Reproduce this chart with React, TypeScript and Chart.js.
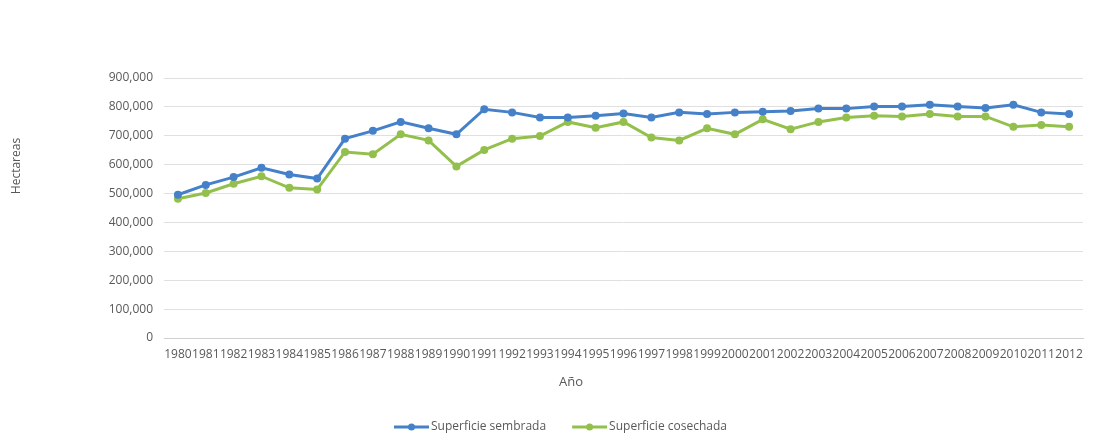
import React, { useEffect, useRef } from "react";
import { Chart, registerables } from "chart.js";

Chart.register(...registerables);

const years: string[] = [
  "1980", "1981", "1982", "1983", "1984", "1985", "1986", "1987", "1988", "1989",
  "1990", "1991", "1992", "1993", "1994", "1995", "1996", "1997", "1998", "1999",
  "2000", "2001", "2002", "2003", "2004", "2005", "2006", "2007", "2008", "2009",
  "2010", "2011", "2012",
];

const sembrada: number[] = [
  496000, 530000, 557000, 589000, 566000, 552000, 690000, 717000, 748000, 726000,
  705000, 792000, 781000, 763000, 763000, 769000, 777000, 763000, 781000, 775000,
  781000, 783000, 786000, 794000, 794000, 801000, 801000, 807000, 801000, 796000,
  807000, 781000, 775000,
];

const cosechada: number[] = [
  482000, 502000, 534000, 560000, 520000, 514000, 644000, 636000, 705000, 684000,
  594000, 651000, 690000, 699000, 748000, 728000, 748000, 694000, 684000, 726000,
  705000, 757000, 723000, 748000, 763000, 769000, 767000, 775000, 767000, 767000,
  731000, 737000, 731000,
];

const seriesNames: string[] = ["Superficie sembrada", "Superficie cosechada"];
const seriesColors: string[] = ["#4581c9", "#93c04c"];
const yTitle = "Hectareas";
const xTitle = "Año";

const FONT = "'Open Sans', sans-serif";
const TEXT = "#595959";

const overlayPlugin = {
  id: "overlay",
  afterDraw(chart: any) {
    const ctx = chart.ctx as CanvasRenderingContext2D;
    ctx.save();
    ctx.fillStyle = TEXT;
    ctx.font = `12px ${FONT}`;
    // y title
    ctx.save();
    ctx.translate(17, 166);
    ctx.rotate(-Math.PI / 2);
    ctx.textAlign = "center";
    ctx.textBaseline = "middle";
    ctx.fillText(yTitle, 0, 0);
    ctx.restore();
    // x title
    ctx.font = `13px ${FONT}`;
    ctx.textAlign = "center";
    ctx.textBaseline = "middle";
    ctx.fillText(xTitle, 571, 382);
    // legend
    ctx.font = `12px ${FONT}`;
    ctx.textAlign = "left";
    const ly = 427;
    let x = 394;
    chart.data.datasets.forEach((ds: any) => {
      ctx.strokeStyle = ds.borderColor;
      ctx.lineWidth = 3;
      ctx.beginPath();
      ctx.moveTo(x, ly);
      ctx.lineTo(x + 35, ly);
      ctx.stroke();
      ctx.fillStyle = ds.borderColor;
      ctx.beginPath();
      ctx.arc(x + 17.5, ly, 3.5, 0, Math.PI * 2);
      ctx.fill();
      ctx.fillStyle = TEXT;
      ctx.fillText(ds.label, x + 37, ly);
      const w = ctx.measureText(ds.label).width;
      x += 37 + w + 26;
    });
    ctx.restore();
  },
};

export default function App() {
  const ref = useRef<HTMLCanvasElement>(null);
  useEffect(() => {
    if (!ref.current) return;
    const chart = new Chart(ref.current, {
      type: "line",
      data: {
        labels: years,
        datasets: [
          {
            label: seriesNames[0],
            data: sembrada,
            borderColor: seriesColors[0],
            backgroundColor: seriesColors[0],
            borderWidth: 3,
            pointRadius: 4,
            pointBorderWidth: 0,
            tension: 0,
          },
          {
            label: seriesNames[1],
            data: cosechada,
            borderColor: seriesColors[1],
            backgroundColor: seriesColors[1],
            borderWidth: 3,
            pointRadius: 4,
            pointBorderWidth: 0,
            tension: 0,
          },
        ],
      },
      options: {
        responsive: false,
        animation: false,
        layout: { padding: { top: 78, right: 13, bottom: 75, left: 0 } },
        plugins: {
          legend: { display: false },
          tooltip: { enabled: false },
        },
        scales: {
          x: {
            offset: true,
            grid: { display: false, drawTicks: false },
            border: { display: true, color: "#d0d0d0", width: 1 },
            ticks: {
              autoSkip: false,
              maxRotation: 0,
              minRotation: 0,
              padding: 9,
              color: TEXT,
              font: { family: FONT, size: 12 },
            },
            afterFit(scale: any) {
              scale.height = 30;
            },
          },
          y: {
            min: 0,
            max: 900000,
            grid: { color: "#e0e0e0", drawTicks: false },
            border: { display: false },
            ticks: {
              stepSize: 100000,
              padding: 11,
              color: TEXT,
              font: { family: FONT, size: 12 },
              callback: (v: any) => Number(v).toLocaleString("en-US"),
            },
            afterFit(scale: any) {
              scale.width = 164;
            },
          },
        },
      },
      plugins: [overlayPlugin],
    });
    return () => chart.destroy();
  }, []);
  return (
    <div style={{ position: "fixed", left: 0, top: 0, width: 1096, height: 443, background: "#fff" }}>
      <canvas ref={ref} width={1096} height={443} />
    </div>
  );
}
